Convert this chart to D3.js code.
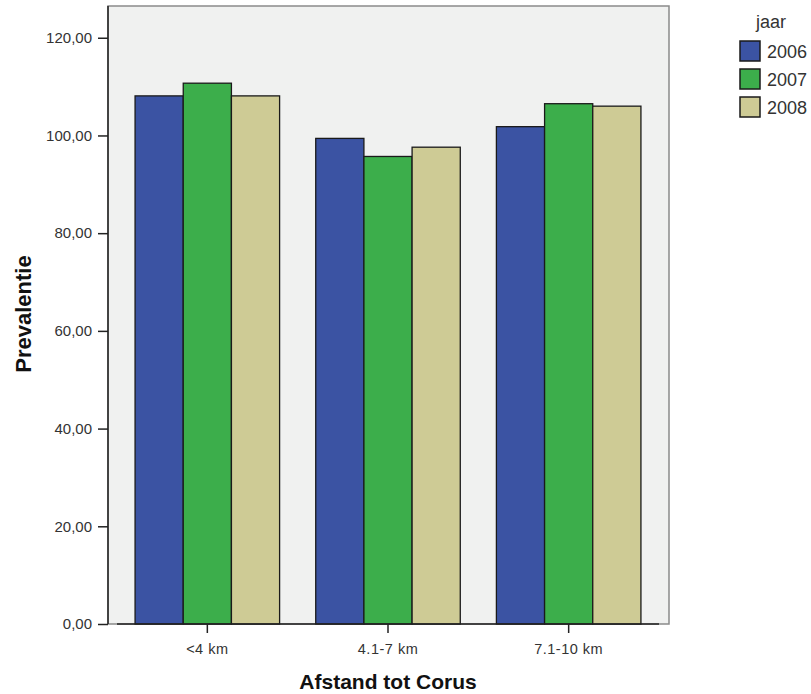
<!DOCTYPE html>
<html><head><meta charset="utf-8">
<script src="https://cdn.jsdelivr.net/npm/d3@7"></script>
<style>body{margin:0;background:#fff}svg{display:block}</style>
</head><body>
<svg id="c" width="811" height="694"></svg>
<script>
const categories = ["<4 km", "4.1-7 km", "7.1-10 km"];
const years = ["2006", "2007", "2008"];
const v2006 = [108.1, 99.4, 101.8];
const v2007 = [110.7, 95.7, 106.5];
const v2008 = [108.1, 97.6, 106.0];
const yTicks = [0, 20, 40, 60, 80, 100, 120];
const colors = ["#3b53a3", "#3cae4b", "#cecb95"];
const series = [v2006, v2007, v2008];

const svg = d3.select("#c");
const y = d3.scaleLinear().domain([0, 126.5]).range([624, 6]);
const x0 = d3.scaleBand().domain(categories).range([117, 659]).paddingInner(0.2).paddingOuter(0.1);
const x1 = d3.scaleBand().domain(years).range([0, x0.bandwidth()]);
const color = d3.scaleOrdinal().domain(years).range(colors);
const SANS = "Liberation Sans, Arial, sans-serif";

// plot background
svg.append("rect").attr("x", 108).attr("y", 6).attr("width", 669 - 108).attr("height", 624 - 6)
  .attr("fill", "#f0f1f0").attr("stroke", "#8a8a8a").attr("stroke-width", 1.5);

// bars
const rows = categories.map((c, i) => ({c, vals: years.map((yr, j) => ({yr, v: series[j][i]}))}));
const g = svg.append("g");
g.selectAll("g.grp").data(rows).join("g").attr("class", "grp")
  .attr("transform", d => `translate(${x0(d.c)},0)`)
  .selectAll("rect").data(d => d.vals).join("rect")
  .attr("x", d => x1(d.yr)).attr("width", x1.bandwidth())
  .attr("y", d => y(d.v)).attr("height", d => y(0) - y(d.v))
  .attr("fill", d => color(d.yr)).attr("stroke", "#1a1a1a").attr("stroke-width", 1.3);

// y axis
const ya = svg.append("g").attr("transform", "translate(108,0)")
  .call(d3.axisLeft(y).tickValues(yTicks).tickSize(10).tickPadding(6)
    .tickFormat(d => d3.format(".2f")(d).replace(".", ",")));
ya.select(".domain").remove();
ya.selectAll(".tick line").attr("stroke", "#222").attr("stroke-width", 1.5);
ya.selectAll(".tick text").attr("font-family", SANS).attr("font-size", 15).attr("fill", "#333");
svg.append("line").attr("x1", 108).attr("x2", 108).attr("y1", 6).attr("y2", 624).attr("stroke", "#222").attr("stroke-width", 1.5);

// x axis
const xa = svg.append("g").attr("transform", "translate(0,624)")
  .call(d3.axisBottom(x0).tickSize(9).tickPadding(11));
xa.select(".domain").remove();
xa.selectAll(".tick line").attr("stroke", "#222").attr("stroke-width", 1.5);
xa.selectAll(".tick text").attr("font-family", SANS).attr("font-size", 14.5)
  .attr("letter-spacing", 0.5).attr("fill", "#333");
svg.append("line").attr("x1", 117).attr("x2", 659).attr("y1", 624).attr("y2", 624).attr("stroke", "#222").attr("stroke-width", 1.5);

// axis titles
svg.append("text").attr("x", 388).attr("y", 689).attr("text-anchor", "middle")
  .attr("font-family", SANS).attr("font-weight", "bold").attr("font-size", 21)
  .attr("fill", "#111").text("Afstand tot Corus");
svg.append("text").attr("transform", "translate(31,314) rotate(-90)").attr("text-anchor", "middle")
  .attr("font-family", SANS).attr("font-weight", "bold").attr("font-size", 22)
  .attr("fill", "#111").text("Prevalentie");

// legend
const leg = svg.append("g");
leg.append("text").attr("x", 771).attr("y", 28).attr("text-anchor", "middle")
  .attr("font-family", SANS).attr("font-size", 18).attr("fill", "#333").text("jaar");
const items = leg.selectAll("g.it").data(years).join("g").attr("class", "it")
  .attr("transform", (d, i) => `translate(740,${41 + i * 28})`);
items.append("rect").attr("width", 20).attr("height", 20).attr("fill", d => color(d))
  .attr("stroke", "#1a1a1a").attr("stroke-width", 1.5);
items.append("text").attr("x", 27).attr("y", 17).attr("font-family", SANS)
  .attr("font-size", 18).attr("fill", "#333").text(d => d);
</script>
</body></html>
